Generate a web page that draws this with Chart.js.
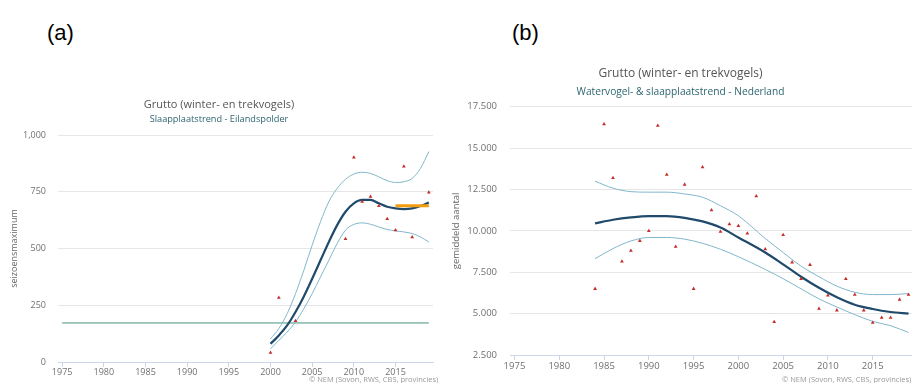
<!DOCTYPE html>
<html>
<head>
<meta charset="utf-8">
<script src="https://cdn.jsdelivr.net/npm/chart.js@4.4.1/dist/chart.umd.min.js"></script>
<style>
  html, body { margin: 0; padding: 0; width: 912px; height: 383px; overflow: hidden; background: #fff; }
  .panel { position: absolute; top: 0; height: 383px; }
  .lbl { position: absolute; font-family: "Liberation Sans", Arial, sans-serif; font-size: 22px; color: #000; }
  .credit { position: absolute; font-family: "Open Sans", sans-serif; font-size: 7.5px; color: #999; white-space: nowrap; }
</style>
</head>
<body>
<div class="lbl" style="left:47px;top:20px">(a)</div>
<div class="lbl" style="left:512px;top:20px">(b)</div>
<div class="panel" style="left:0;width:438px"><canvas id="chartA"></canvas></div>
<div class="panel" style="left:444px;width:473px"><canvas id="chartB"></canvas></div>
<div class="credit" style="left:309px;top:374px">© NEM (Sovon, RWS, CBS, provincies)</div>
<div class="credit" style="left:782px;top:374px">© NEM (Sovon, RWS, CBS, provincies)</div>
<script>
// shared x ticks
const tickYears = [1975, 1980, 1985, 1990, 1995, 2000, 2005, 2010, 2015];

// (a) Slaapplaatstrend - Eilandspolder
const yearsA = [2000, 2001, 2002, 2003, 2004, 2005, 2006, 2007, 2008, 2009,
                2010, 2011, 2012, 2013, 2014, 2015, 2016, 2017, 2018, 2019];
const trendA = [80, 117, 161, 220, 289, 367, 448, 529, 603, 662, 699, 714, 714, 699, 684, 677, 674, 677, 687, 703];
const upperA = [102, 147, 213, 301, 404, 515, 618, 706, 765, 805, 828, 836, 831, 816, 799, 791, 794, 809, 853, 927];
const lowerA = [58, 95, 132, 176, 235, 301, 375, 448, 522, 581, 606, 613, 607, 595, 584, 578, 573, 566, 551, 529];
const countYearsA = [2000, 2001, 2003, 2009, 2010, 2011, 2012, 2013, 2014, 2015, 2016, 2017, 2019];
const countsA = [41, 283, 181, 542, 901, 706, 728, 688, 630, 581, 862, 550, 747];
const refYearsA = [1975, 2019];
const refA = [172, 172];
const recentYearsA = [2015, 2019];
const recentA = [688, 688];

// (b) Watervogel- & slaapplaatstrend - Nederland
const countYearsB = [1984, 1985, 1986, 1987, 1988, 1989, 1990, 1991, 1992, 1993, 1994, 1995,
                     1996, 1997, 1998, 1999, 2000, 2001, 2002, 2003, 2004, 2005, 2006, 2007,
                     2008, 2009, 2010, 2011, 2012, 2013, 2014, 2015, 2016, 2017, 2018, 2019];
const countsB = [6500, 16450, 13200, 8150, 8800, 9400, 10000, 16350, 13400, 9050, 12800, 6500,
                 13850, 11250, 9950, 10400, 10300, 9850, 12100, 8900, 4500, 9750, 8100, 7100,
                 7950, 5300, 6100, 5200, 7100, 6150, 5200, 4450, 4750, 4750, 5850, 6150];
const yearsB = [1984, 1986, 1988, 1990, 1992, 1994, 1996, 1998, 2000, 2003, 2005, 2007, 2009, 2011, 2013, 2015, 2017, 2019];
const trendB = [10450, 10670, 10815, 10890, 10890, 10790, 10570, 10200, 9600, 8690, 7975, 7230, 6560, 5990, 5540, 5280, 5100, 5000];
const upperB = [13000, 12580, 12370, 12340, 12340, 12230, 12030, 11520, 10910, 9540, 8690, 7870, 7230, 6660, 6290, 6150, 6150, 6210];
const lowerB = [8320, 8930, 9390, 9600, 9600, 9500, 9250, 8890, 8440, 7670, 7110, 6500, 5890, 5400, 4940, 4530, 4270, 3860];

const RED = '#c32e2a';
const DARK = '#1f4a6b';
const LIGHT = '#80b7ca';

Chart.defaults.font.family = '"Open Sans", sans-serif';
Chart.defaults.color = '#666';

function pts(xs, ys) {
  return xs.map((x, i) => ({ x: x, y: ys[i] }));
}

function lineSet(xs, ys, color, width) {
  return {
    data: pts(xs, ys), borderColor: color, borderWidth: width,
    pointRadius: 0, cubicInterpolationMode: 'monotone', fill: false
  };
}

function pointSet(xs, ys) {
  return {
    data: pts(xs, ys), showLine: false, pointStyle: 'triangle',
    pointRadius: 2.2, pointBackgroundColor: RED, pointBorderWidth: 0
  };
}

function xAxis(tickSize, pad, height) {
  return {
    type: 'linear', min: 1974.5, max: 2019.5,
    afterBuildTicks: axis => { axis.ticks = tickYears.map(v => ({ value: v })); },
    afterFit: s => { s.height = height; },
    grid: { drawOnChartArea: false, drawTicks: true, tickLength: 5, color: '#ccd6eb' },
    border: { display: true, color: '#ccd6eb' },
    ticks: { font: { size: tickSize }, padding: pad, color: '#707070', maxRotation: 0, callback: v => String(v) }
  };
}

function yAxis(min, max, step, width, tickSize, pad, title, titlePad, fmt) {
  return {
    min: min, max: max,
    afterFit: s => { s.width = width; },
    grid: { color: '#e6e6e6', drawTicks: false },
    border: { display: false },
    ticks: { stepSize: step, font: { size: tickSize }, padding: pad, color: '#707070', callback: fmt },
    title: { display: true, text: title, color: '#666', font: { size: tickSize }, padding: { top: titlePad, bottom: 0 } }
  };
}

function titles(main, sub, mainSize, subSize, mainPadB, subPadB) {
  return {
    legend: { display: false },
    tooltip: { enabled: false },
    title: { display: true, text: main, color: '#555', font: { size: mainSize, weight: 'normal' }, padding: { top: 0, bottom: mainPadB } },
    subtitle: { display: true, text: sub, color: '#2c6570', font: { size: subSize }, padding: { top: 0, bottom: subPadB } }
  };
}

new Chart(document.getElementById('chartA'), {
  type: 'line',
  data: {
    datasets: [
      pointSet(countYearsA, countsA),
      lineSet(recentYearsA, recentA, '#f29d0f', 3),
      lineSet(yearsA, trendA, DARK, 2.2),
      lineSet(yearsA, upperA, LIGHT, 1),
      lineSet(yearsA, lowerA, LIGHT, 1),
      lineSet(refYearsA, refA, '#45927e', 1)
    ]
  },
  options: {
    responsive: true, maintainAspectRatio: false, animation: false,
    layout: { padding: { top: 98.4, left: 5, right: 5, bottom: 0 } },
    plugins: titles('Grutto (winter- en trekvogels)', 'Slaapplaatstrend - Eilandspolder', 11, 9.2, 2.2, 10.2),
    scales: {
      x: xAxis(9, 0, 21),
      y: yAxis(0, 1000, 250, 53, 9, 12, 'seizoensmaximum', 3.6,
               v => v.toLocaleString('en-US'))
    }
  }
});

new Chart(document.getElementById('chartB'), {
  type: 'line',
  data: {
    datasets: [
      pointSet(countYearsB, countsB),
      lineSet(yearsB, trendB, DARK, 2.2),
      lineSet(yearsB, upperB, LIGHT, 1),
      lineSet(yearsB, lowerB, LIGHT, 1)
    ]
  },
  options: {
    responsive: true, maintainAspectRatio: false, animation: false,
    layout: { padding: { top: 66.8, left: 0, right: 0, bottom: 0 } },
    plugins: titles('Grutto (winter- en trekvogels)', 'Watervogel- & slaapplaatstrend - Nederland', 12, 10.2, 4.4, 8.9),
    scales: {
      x: xAxis(9.5, 1, 28),
      y: yAxis(2500, 17500, 2500, 66, 9.5, 13, 'gemiddeld aantal', 6.3,
               v => String(v).replace(/\B(?=(\d{3})+(?!\d))/g, '.'))
    }
  }
});
</script>
</body>
</html>
